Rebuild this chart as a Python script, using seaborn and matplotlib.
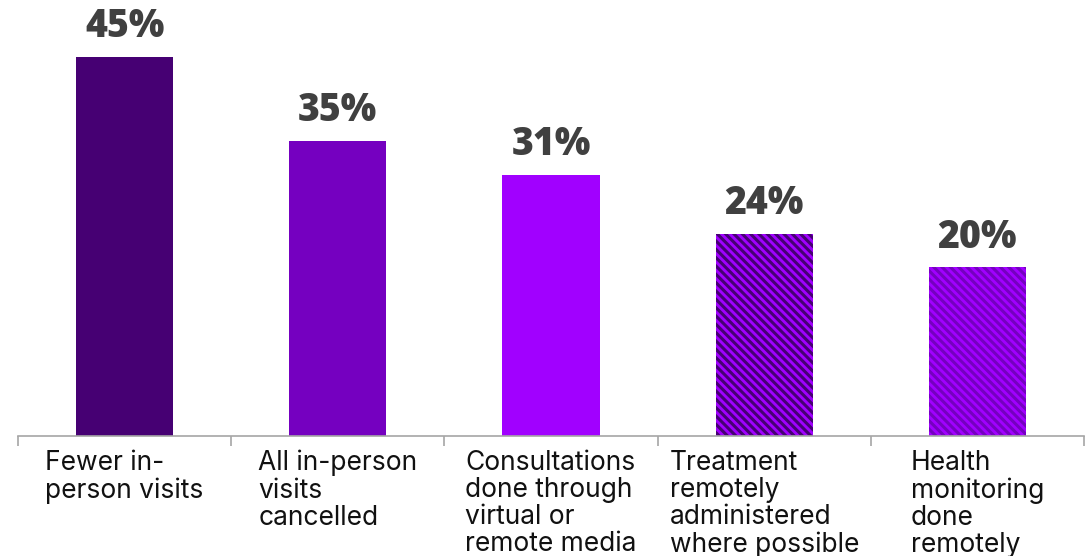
import matplotlib
matplotlib.use("Agg")
import matplotlib.pyplot as plt
import seaborn as sns
import pandas as pd

categories = [
    "Fewer in-\nperson visits",
    "All in-person\nvisits\ncancelled",
    "Consultations\ndone through\nvirtual or\nremote media",
    "Treatment\nremotely\nadministered\nwhere possible",
    "Health\nmonitoring\ndone\nremotely",
]
values = [45, 35, 31, 24, 20]
bar_colors = ["#460073", "#7500C0", "#A100FF", "#A100FF", "#A100FF"]
stripe_colors = [None, None, None, "#460073", "#7500C0"]

sns.set_theme(style="white")
plt.rcParams["font.family"] = ["Inter", "DejaVu Sans"]
plt.rcParams["hatch.linewidth"] = 2.2

df = pd.DataFrame({"category": categories, "value": values})

fig = plt.figure(figsize=(10.89, 5.56), dpi=100)
ax = fig.add_axes([18 / 1089, 1 - 436 / 556, (1084 - 18) / 1089, 436 / 556])

sns.barplot(data=df, x="category", y="value", hue="category",
            palette=bar_colors, width=0.455, legend=False, ax=ax,
            saturation=1)

for patch, stripe in zip(ax.patches, stripe_colors):
    if stripe is not None:
        patch.set_hatch("\\\\\\\\")
        patch.set_edgecolor(stripe)
    patch.set_linewidth(0)

for patch, v in zip(ax.patches, values):
    ax.text(patch.get_x() + patch.get_width() / 2, v + 2.35, f"{v}%",
            ha="center", va="baseline", fontsize=27, fontweight="heavy",
            color="#404040", family=["Open Sans", "DejaVu Sans"])

ax.set_xlim(-0.5, len(values) - 0.5)
ax.set_ylim(0, 436 / 8.43)
ax.set_xlabel("")
ax.set_ylabel("")
ax.set_yticks([])

for side in ["top", "right", "left"]:
    ax.spines[side].set_visible(False)
ax.spines["bottom"].set_color("#A6A6A6")
ax.spines["bottom"].set_linewidth(1.2)

ax.set_xticks(range(len(values)))
ax.set_xticklabels(categories, fontsize=19, color="#111111",
                   multialignment="left", linespacing=1.06)
ax.tick_params(axis="x", which="major", length=0, pad=10)
ax.set_xticks([i - 0.5 for i in range(len(values) + 1)], minor=True)
ax.tick_params(axis="x", which="minor", length=7, width=1.2,
               color="#A6A6A6", direction="out", bottom=True)

fig.savefig("out.png", dpi=100)
